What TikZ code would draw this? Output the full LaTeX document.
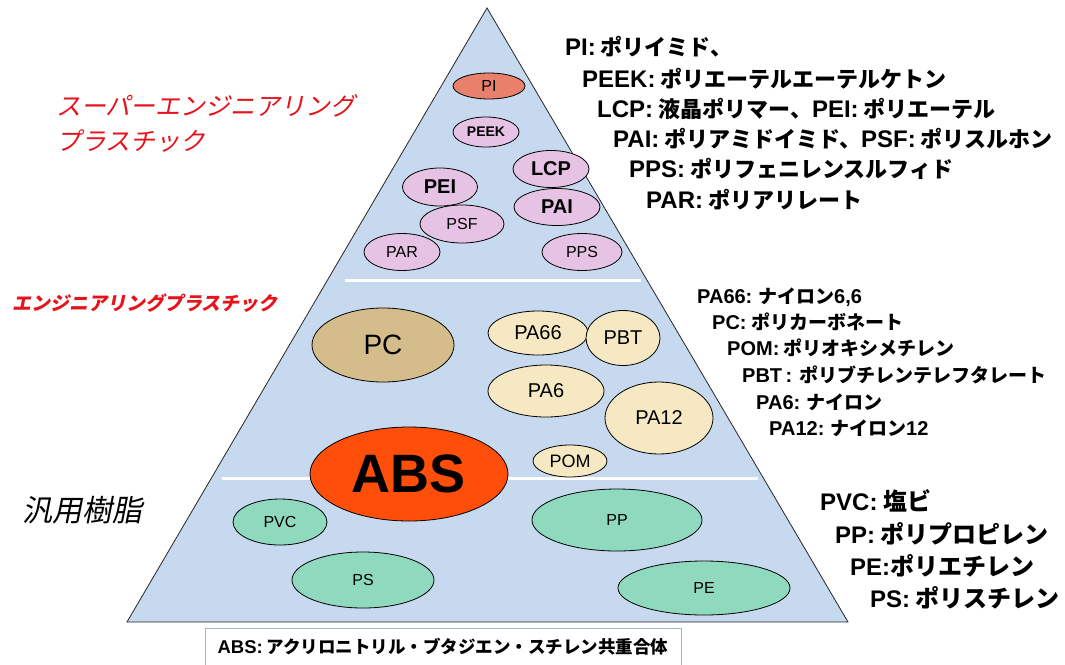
\documentclass[tikz,border=0pt]{standalone}
\usepackage{fontspec}
\setmainfont{Liberation Sans}
\newfontfamily\jp{Noto Sans CJK JP}
\newfontfamily\jpi[FakeSlant=0.2]{Noto Sans CJK JP}
\usetikzlibrary{shapes.geometric}
\definecolor{tri}{HTML}{C6D9EF}
\definecolor{pinkell}{HTML}{E6C3E4}
\definecolor{piell}{HTML}{E8806C}
\definecolor{pcell}{HTML}{D5BD8B}
\definecolor{creamell}{HTML}{F6E8C2}
\definecolor{absell}{HTML}{FF4E0A}
\definecolor{greenell}{HTML}{8FDABF}
\definecolor{redtxt}{HTML}{E5131B}
\definecolor{boxline}{HTML}{9DB5D3}
\newcommand{\fsz}[1]{\fontsize{#1}{#1}\selectfont}
\newcommand{\lat}[2]{{\rmfamily\fsz{#1}\bfseries #2}}
\tikzset{
  ell/.style={ellipse, draw=black, line width=0.8pt, inner sep=0pt},
  lbl/.style={anchor=west, inner sep=0pt, text=black},
  sep/.style={white, line width=3pt}
}
\begin{document}
\begin{tikzpicture}[x=1pt,y=-1pt]
\useasboundingbox (0,0) rectangle (1065,664);
\fill[white] (0,0) rectangle (1065,664);
% pyramid
\draw[fill=tri, draw=black!85, line width=0.8pt] (487,8) -- (848,622) -- (127,622) -- cycle;
\draw[sep] (345,280) -- (641,280);
\draw[sep] (222,478) -- (758,478);
% super engineering plastics
\node[ell, fill=piell, minimum width=72pt, minimum height=26pt, font=\fsz{16}] (PI) at (489,86) {PI};
\node[ell, fill=pinkell, minimum width=66pt, minimum height=30pt, font=\fsz{14}\bfseries] (PEEK) at (486,132) {PEEK};
\node[ell, fill=pinkell, minimum width=76pt, minimum height=37pt, font=\fsz{20}\bfseries] (LCP) at (551,169) {LCP};
\node[ell, fill=pinkell, minimum width=75pt, minimum height=38pt, font=\fsz{20}\bfseries] (PEI) at (440,187) {PEI};
\node[ell, fill=pinkell, minimum width=86pt, minimum height=37pt, font=\fsz{20}\bfseries] (PAI) at (557,207) {PAI};
\node[ell, fill=pinkell, minimum width=84pt, minimum height=38pt, font=\fsz{16}] (PSF) at (462,224) {PSF};
\node[ell, fill=pinkell, minimum width=76pt, minimum height=37pt, font=\fsz{16}] (PAR) at (402,252) {PAR};
\node[ell, fill=pinkell, minimum width=80pt, minimum height=37pt, font=\fsz{16}] (PPS) at (582,252) {PPS};
% engineering plastics
\node[ell, fill=pcell, minimum width=142pt, minimum height=74pt, font=\fsz{28}] (PC) at (383,345) {PC};
\node[ell, fill=creamell, minimum width=100pt, minimum height=44pt, font=\fsz{20}] (PA66) at (538,333) {PA66};
\node[ell, fill=creamell, minimum width=74pt, minimum height=55pt, font=\fsz{20}] (PBT) at (623,338) {PBT};
\node[ell, fill=creamell, minimum width=116pt, minimum height=52pt, font=\fsz{20}] (PA6) at (546,391) {PA6};
\node[ell, fill=creamell, minimum width=108pt, minimum height=72pt, font=\fsz{20}] (PA12) at (659,418) {PA12};
\node[ell, fill=creamell, minimum width=74pt, minimum height=32pt, font=\fsz{18}] (POM) at (570,461) {POM};
\node[ell, fill=absell, minimum width=198pt, minimum height=94pt, font=\fsz{54}\bfseries] (ABS) at (409,474) {ABS};
% commodity resins
\node[ell, fill=greenell, minimum width=94pt, minimum height=46pt, font=\fsz{16}] (PVC) at (280,522) {PVC};
\node[ell, fill=greenell, minimum width=142pt, minimum height=56pt, font=\fsz{16}] (PS) at (363,580) {PS};
\node[ell, fill=greenell, minimum width=170pt, minimum height=62pt, font=\fsz{16}] (PP) at (617,520) {PP};
\node[ell, fill=greenell, minimum width=172pt, minimum height=54pt, font=\fsz{16}] (PE) at (704,588) {PE};
% left category labels
\node[anchor=west, inner sep=0pt, text=redtxt, align=left, font=\jpi\fsz{25}] (super) at (56,123) {スーパーエンジニアリング\\[10pt]プラスチック};
\node[anchor=west, inner sep=0pt, text=redtxt, font=\jpi\bfseries\fsz{19}] (eng) at (12,303) {エンジニアリングプラスチック};
\node[anchor=west, inner sep=0pt, text=black, font=\jpi\fsz{30}] (gen) at (22,510) {汎用樹脂};
% right legends: super engineering
\node[lbl, font=\jp\bfseries\fsz{22}] (lPI) at (565,47) {\lat{24}{PI:} ポリイミド、};
\node[lbl, font=\jp\bfseries\fsz{22}] (lPEEK) at (582,79) {\lat{24}{PEEK:} ポリエーテルエーテルケトン};
\node[lbl, font=\jp\bfseries\fsz{22}] (lLCP) at (597,109) {\lat{24}{LCP:} 液晶ポリマー、\lat{24}{PEI:} ポリエーテル};
\node[lbl, font=\jp\bfseries\fsz{22}] (lPAI) at (613,139) {\lat{24}{PAI:} ポリアミドイミド、\lat{24}{PSF:} ポリスルホン};
\node[lbl, font=\jp\bfseries\fsz{22}] (lPPS) at (629,169) {\lat{24}{PPS:} ポリフェニレンスルフィド};
\node[lbl, font=\jp\bfseries\fsz{22}] (lPAR) at (646,200) {\lat{24}{PAR:} ポリアリレート};
% right legends: engineering
\node[lbl, font=\jp\bfseries\fsz{19}] (lPA66) at (697,297) {\lat{20}{PA66:} ナイロン\lat{20}{6,6}};
\node[lbl, font=\jp\bfseries\fsz{19}] (lPC) at (712,322) {\lat{20}{PC:} ポリカーボネート};
\node[lbl, font=\jp\bfseries\fsz{19}] (lPOM) at (727,348) {\lat{20}{POM:} ポリオキシメチレン};
\node[lbl, font=\jp\bfseries\fsz{19}] (lPBT) at (742,375) {\lat{20}{PBT\,:}\, ポリブチレンテレフタレート};
\node[lbl, font=\jp\bfseries\fsz{19}] (lPA6) at (756,402) {\lat{20}{PA6:} ナイロン};
\node[lbl, font=\jp\bfseries\fsz{19}] (lPA12) at (769,428) {\lat{20}{PA12:} ナイロン\lat{20}{12}};
% right legends: commodity
\node[lbl, font=\jp\bfseries\fsz{24}] (lPVC) at (820,501) {\lat{24}{PVC:} 塩ビ};
\node[lbl, font=\jp\bfseries\fsz{24}] (lPP) at (835,534) {\lat{24}{PP:} ポリプロピレン};
\node[lbl, font=\jp\bfseries\fsz{24}] (lPE) at (850,566) {\lat{24}{PE:}ポリエチレン};
\node[lbl, font=\jp\bfseries\fsz{24}] (lPS) at (870,598) {\lat{24}{PS:} ポリスチレン};
% ABS box
\node[draw=boxline, line width=1pt, fill=white, minimum width=476pt, minimum height=38pt, inner sep=0pt, font=\jp\bfseries\fsz{17.5}] (absbox) at (443,647) {\lat{18.5}{ABS:} アクリロニトリル・ブタジエン・スチレン共重合体};
\end{tikzpicture}
\end{document}
